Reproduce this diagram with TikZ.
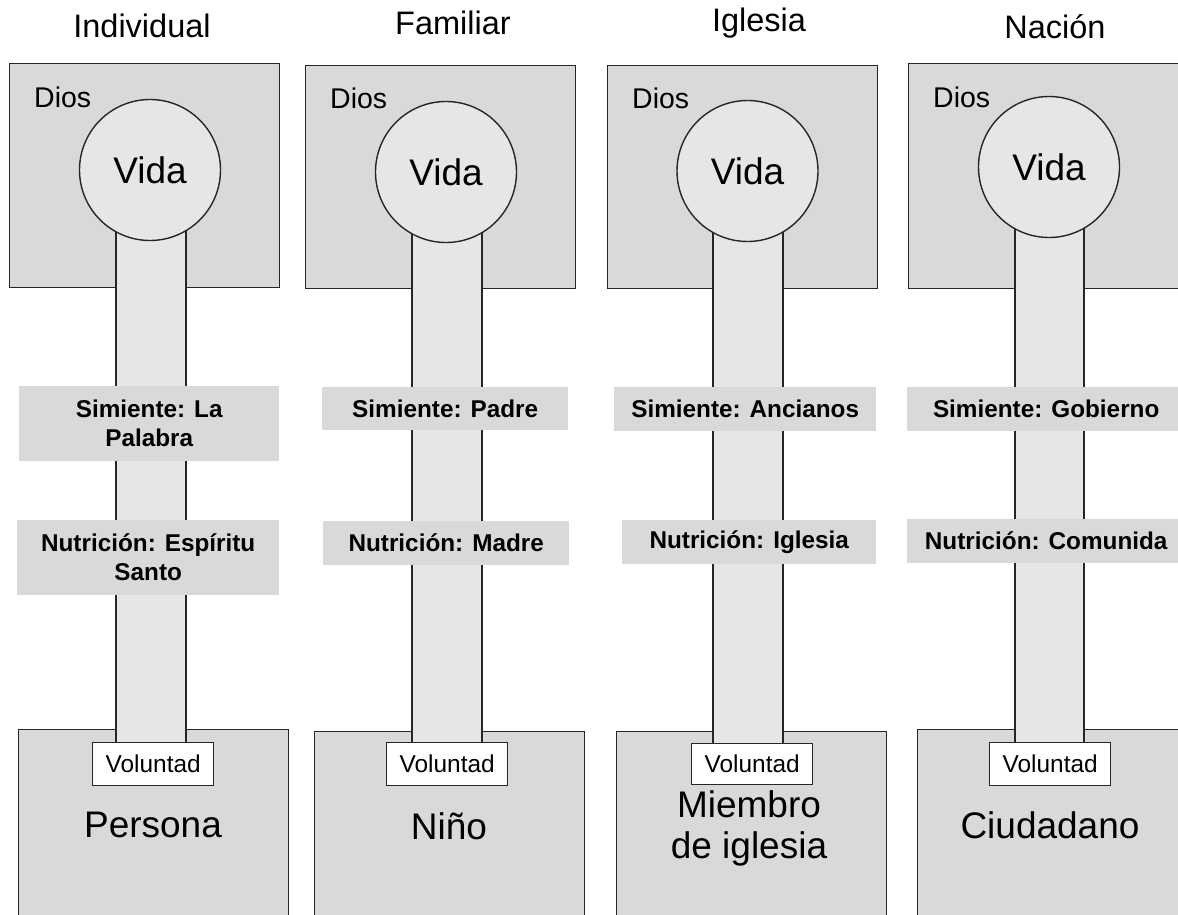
\documentclass[tikz,border=0pt]{standalone}
\usepackage{fontspec}
\setmainfont{Liberation Sans}
\definecolor{boxgray}{HTML}{D9D9D9}
\definecolor{pipegray}{HTML}{E6E6E6}
\definecolor{edgecol}{HTML}{262626}
\begin{document}
\begin{tikzpicture}[x=1pt,y=-1pt,
  bigbox/.style={draw=edgecol, line width=1.4pt, fill=boxgray, inner sep=0pt, anchor=north west},
  vidacircle/.style={circle, draw=edgecol, line width=1.4pt, fill=pipegray, inner sep=0pt, minimum size=141pt, font=\fontsize{37}{41}\selectfont},
  stemfill/.style={draw=edgecol, line width=1.4pt, fill=pipegray},
  lblbox/.style={fill=boxgray, inner sep=0pt, anchor=north west, align=center, font=\fontsize{24.3}{29}\selectfont\bfseries},
  coltitle/.style={font=\fontsize{32.5}{37}\selectfont},
  diostext/.style={font=\fontsize{28.5}{32}\selectfont, anchor=west, inner sep=0pt},
  volbox/.style={draw=edgecol, line width=1.4pt, fill=white, inner sep=0pt, anchor=north west, font=\fontsize{24.4}{28}\selectfont},
  whotext/.style={font=\fontsize{37}{41}\selectfont, align=center}
]
\useasboundingbox (0,0) rectangle (1178,915);
\clip (0,0) rectangle (1178,915);

% ---------------- Column 1: Individual
\node[coltitle] (t1) at (142,26) {Individual};
\node[bigbox, minimum width=270pt, minimum height=224pt] (top1) at (9,63) {};
\node[diostext] (d1) at (34,97) {Dios};
\node[bigbox, minimum width=270pt, minimum height=201pt] (bot1) at (18,729) {};
\coordinate (s1a) at (116,170);
\coordinate (s1b) at (186,746);
\path[stemfill] (s1a) rectangle (s1b);
\node[vidacircle] (v1) at (150,170) {Vida};
\node[lblbox, minimum width=260pt, minimum height=75pt] (sim1) at (19,386) {Simiente: La\\Palabra};
\node[lblbox, minimum width=262pt, minimum height=75pt] (nut1) at (17,520) {Nutrición: Espíritu\\Santo};
\node[volbox, minimum width=121pt, minimum height=43pt] (vol1) at (92,742) {Voluntad};
\node[whotext] (w1) at (153,825) {Persona};

% ---------------- Column 2: Familiar
\node[coltitle] (t2) at (453,23) {Familiar};
\node[bigbox, minimum width=270pt, minimum height=223pt] (top2) at (305,65) {};
\node[diostext] (d2) at (330,98) {Dios};
\node[bigbox, minimum width=270pt, minimum height=199pt] (bot2) at (314,731) {};
\coordinate (s2a) at (412,172);
\coordinate (s2b) at (482,746);
\path[stemfill] (s2a) rectangle (s2b);
\node[vidacircle] (v2) at (446,172) {Vida};
\node[lblbox, minimum width=246pt, minimum height=43pt] (sim2) at (322,387) {Simiente: Padre};
\node[lblbox, minimum width=246pt, minimum height=44pt] (nut2) at (323,521) {Nutrición: Madre};
\node[volbox, minimum width=121pt, minimum height=43pt] (vol2) at (386,742) {Voluntad};
\node[whotext] (w2) at (449,826) {Niño};

% ---------------- Column 3: Iglesia
\node[coltitle] (t3) at (759,23) {Iglesia};
\node[bigbox, minimum width=270pt, minimum height=223pt] (top3) at (607,65) {};
\node[diostext] (d3) at (632,98) {Dios};
\node[bigbox, minimum width=270pt, minimum height=199pt] (bot3) at (616,731) {};
\coordinate (s3a) at (713,171);
\coordinate (s3b) at (783,746);
\path[stemfill] (s3a) rectangle (s3b);
\node[vidacircle] (v3) at (747.5,171) {Vida};
\node[lblbox, minimum width=262pt, minimum height=44pt] (sim3) at (614,387) {Simiente: Ancianos};
\node[lblbox, minimum width=254pt, minimum height=44pt] (nut3) at (622,520) {Nutrición: Iglesia};
\node[volbox, minimum width=121pt, minimum height=41pt] (vol3) at (691,743) {Voluntad};
\node[whotext] (w3) at (749,828) {Miembro\\de iglesia};

% ---------------- Column 4: Nación
\node[coltitle] (t4) at (1055,27) {Nación};
\node[bigbox, minimum width=290pt, minimum height=225pt] (top4) at (908,63) {};
\node[diostext] (d4) at (933,97) {Dios};
\node[bigbox, minimum width=290pt, minimum height=201pt] (bot4) at (917,729) {};
\coordinate (s4a) at (1015,167);
\coordinate (s4b) at (1084,746);
\path[stemfill] (s4a) rectangle (s4b);
\node[vidacircle] (v4) at (1049,167) {Vida};
\node[lblbox, minimum width=278pt, minimum height=44pt] (sim4) at (907,387) {Simiente: Gobierno};
\node[lblbox, minimum width=278pt, minimum height=44pt] (nut4) at (907,519) {Nutrición: Comunida};
\node[volbox, minimum width=121pt, minimum height=43pt] (vol4) at (989,742) {Voluntad};
\node[whotext] (w4) at (1050,825) {Ciudadano};
\end{tikzpicture}
\end{document}
